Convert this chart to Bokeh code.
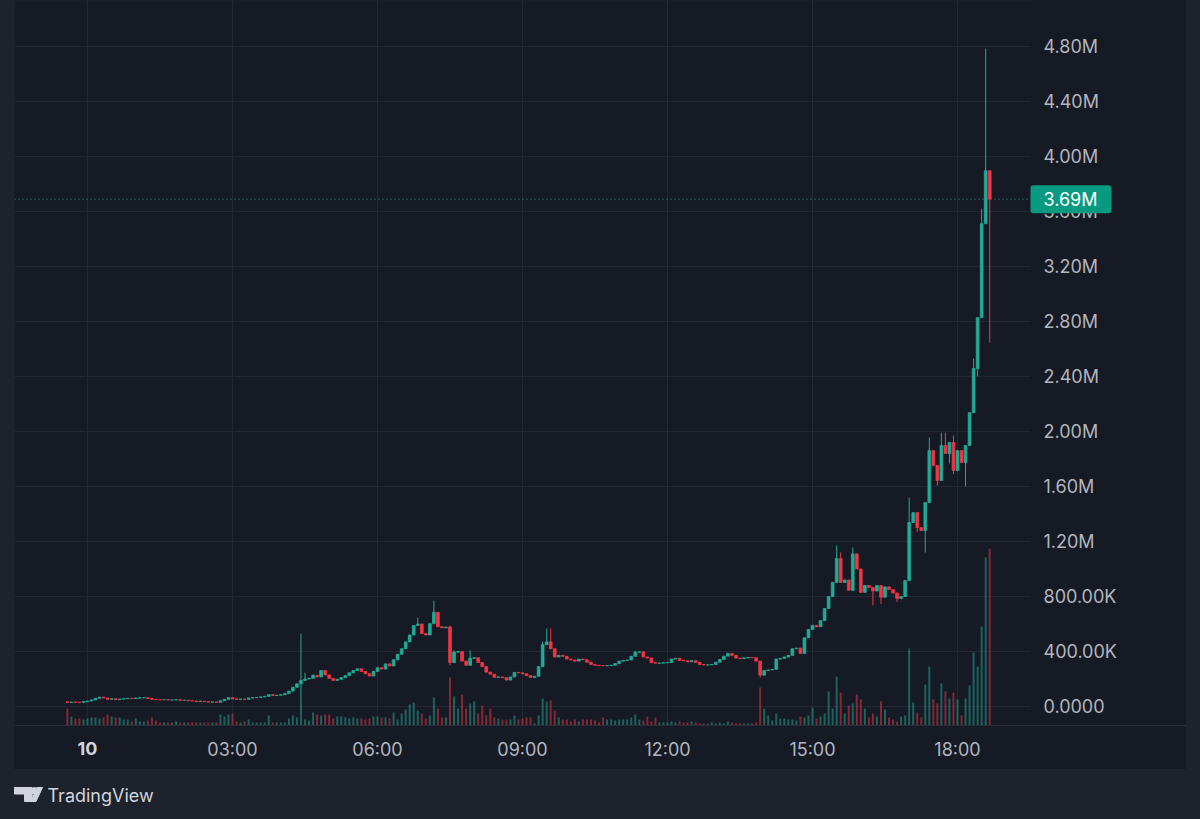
import pandas as pd
from bokeh.plotting import figure
from bokeh.models import Range1d, FixedTicker, Span, Label, Spacer, ColumnDataSource, BoxAnnotation
from bokeh.layouts import row, column
from bokeh.embed import file_html
from bokeh.resources import INLINE

# ---------------- data (5-minute candles, prices in thousands) ----------------
day_start = pd.Timestamp("2025-01-10 00:00")
first_bar = pd.Timestamp("2025-01-09 23:35")
first_open = 34

closes = [
    30, 33, 31, 30, 36, 40, 48, 60, 68, 62,
    52, 56, 50, 54, 57, 60, 58, 62, 63, 64,
    58, 52, 50, 49, 50, 47, 48, 49, 45, 46,
    42, 40, 37, 38, 35, 32, 33, 31, 42, 52,
    64, 55, 52, 54, 52, 62, 64, 66, 70, 74,
    86, 80, 82, 86, 95, 112, 140, 165, 190, 200,
    205, 225, 215, 262, 230, 205, 190, 198, 210, 225,
    245, 262, 274, 255, 238, 222, 255, 282, 272, 310,
    295, 340, 380, 420, 470, 520, 589, 600, 530, 520,
    603, 685, 580, 572, 578, 320, 395, 400, 330, 300,
    350, 355, 320, 290, 250, 235, 212, 215, 210, 192,
    215, 248, 245, 238, 225, 212, 220, 290, 450, 470,
    420, 360, 372, 365, 345, 338, 330, 345, 340, 322,
    305, 300, 298, 296, 298, 300, 312, 330, 335, 338,
    365, 395, 398, 360, 352, 318, 315, 316, 318, 320,
    345, 350, 335, 332, 325, 333, 320, 305, 302, 303,
    306, 322, 342, 366, 385, 372, 352, 348, 354, 357,
    355, 330, 228, 262, 266, 270, 345, 350, 360, 372,
    420, 425, 385, 500, 560, 590, 580, 625, 713, 800,
    902, 1076, 902, 920, 845, 1110, 1000, 830, 880, 865,
    840, 880, 795, 870, 850, 825, 785, 800, 916, 1338,
    1410, 1301, 1280, 1483, 1861, 1752, 1643, 1898, 1840, 1920,
    1716, 1861, 1774, 1898, 2137, 2457, 2828, 3511, 3897, 3690,
]

# wicks that reach beyond the candle body (index: value, thousands)
wick_highs = {58: 530, 59: 245, 61: 235, 87: 647, 91: 770, 95: 590, 96: 410,
              100: 407, 118: 470, 119: 567, 120: 567, 141: 405, 164: 392,
              191: 1171, 192: 1120, 195: 1156, 209: 1520, 214: 1956, 217: 1992,
              218: 1992, 220: 1970, 225: 2530, 227: 3620, 228: 4784}
wick_lows = {58: 20, 95: 300, 96: 318, 172: 210, 200: 735, 202: 745, 206: 760,
             211: 1270, 213: 1120, 216: 1607, 219: 1767, 220: 1690, 223: 1600,
             226: 2400, 229: 2646}

volumes = [
    17, 9, 7, 7, 6, 7, 8, 8, 7, 8,
    11, 9, 8, 8, 6, 6, 4, 7, 4, 4,
    5, 8, 5, 3, 3, 3, 3, 4, 3, 3,
    3, 3, 3, 3, 3, 3, 3, 3, 11, 9,
    11, 12, 4, 3, 4, 6, 3, 3, 3, 3,
    10, 3, 3, 3, 3, 7, 10, 8, 22, 6,
    5, 13, 11, 10, 11, 11, 7, 9, 9, 8,
    7, 8, 7, 7, 6, 7, 9, 9, 8, 8,
    7, 13, 6, 12, 16, 21, 23, 15, 12, 7,
    10, 28, 17, 8, 8, 48, 29, 17, 31, 17,
    22, 24, 12, 20, 10, 17, 8, 7, 6, 6,
    6, 10, 6, 7, 8, 8, 2, 10, 27, 24,
    25, 15, 8, 6, 6, 4, 6, 4, 6, 6,
    6, 5, 3, 8, 6, 6, 5, 6, 6, 6,
    8, 11, 6, 5, 9, 4, 8, 3, 3, 3,
    4, 3, 4, 3, 3, 4, 3, 2, 2, 2,
    3, 2, 3, 2, 4, 3, 2, 2, 2, 2,
    2, 3, 38, 17, 10, 5, 12, 7, 7, 6,
    6, 5, 9, 8, 10, 18, 7, 9, 12, 34,
    17, 49, 33, 12, 20, 22, 31, 26, 17, 8,
    12, 9, 24, 16, 8, 6, 4, 9, 10, 77,
    23, 13, 8, 41, 59, 26, 22, 42, 34, 27,
    33, 26, 10, 27, 40, 73, 59, 99, 168, 177,
]

price_ticks = [0, 400, 800, 1200, 1600, 2000, 2400, 2800, 3200, 3600, 4000, 4400, 4800]
time_ticks = [0, 3, 6, 9, 12, 15, 18]
time_labels = ["10", "03:00", "06:00", "09:00", "12:00", "15:00", "18:00"]

# ---------------- derived ----------------
times = pd.date_range(first_bar, periods=len(closes), freq="5min")
hours = [(t - day_start).total_seconds() / 3600 for t in times]
opens = [first_open] + closes[:-1]
highs = [wick_highs.get(i, max(o, c)) for i, (o, c) in enumerate(zip(opens, closes))]
lows = [wick_lows.get(i, min(o, c)) for i, (o, c) in enumerate(zip(opens, closes))]

GREEN = "#22ab94"
RED = "#f23645"
BG = "#161a25"
OUTER = "#1e222d"
GRID = "#232734"
TEXT = "#b2b5be"
FONT = "Inter"
FS = "18px"

colors = [GREEN if c >= o else RED for o, c in zip(opens, closes)]
src = ColumnDataSource(dict(
    x=hours, open=opens, close=closes, high=highs, low=lows,
    top=[max(o, c) for o, c in zip(opens, closes)],
    bottom=[min(o, c) for o, c in zip(opens, closes)],
    vol=volumes, color=colors,
))

bar_w = 5 / 60  # one bar interval in hours

def fmt_price(v):
    if v == 0:
        return "0.0000"
    if v >= 1000:
        return f"{v / 1000:.2f}M"
    return f"{v:.2f}K"

# panel geometry (pixels)
PANEL_W, PANEL_H = 1172, 769
PX_PER_H = 145 / 3.0
y_per_px = 400 / 55.0
x0 = -(87 - 14) / PX_PER_H
x1 = x0 + PANEL_W / PX_PER_H
x_price_scale = x0 + (1030 - 14) / PX_PER_H
y0 = -(769 - 706) * y_per_px
y1 = y0 + PANEL_H * y_per_px
y_time_scale = -(725 - 706) * y_per_px

p = figure(width=PANEL_W, height=PANEL_H, x_range=Range1d(x0, x1), y_range=Range1d(y0, y1),
           y_axis_location="right", output_backend="svg", toolbar_location=None,
           background_fill_color=BG, border_fill_color=BG, outline_line_color=None,
           min_border=0, min_border_left=0, min_border_right=0, min_border_top=0, min_border_bottom=0)

p.extra_y_ranges = {"vol": Range1d(-(769 - 725), 725)}

# grid
p.xgrid.ticker = FixedTicker(ticks=time_ticks)
p.ygrid.ticker = FixedTicker(ticks=price_ticks)
p.grid.grid_line_color = GRID
p.grid.grid_line_width = 1

# last price line (under the scale covers)
last = closes[-1]
p.add_layout(Span(location=last, dimension="width", line_color=GREEN, line_dash="1 3",
                  line_width=1, level="underlay"))

# scale areas cover the grid
p.add_layout(BoxAnnotation(left=x_price_scale, fill_color=BG, fill_alpha=1, line_color=None,
                           level="underlay"))
p.add_layout(BoxAnnotation(top=y_time_scale, fill_color=BG, fill_alpha=1, line_color=None,
                           level="underlay"))

# axes placed at the scale edges
p.yaxis.ticker = FixedTicker(ticks=price_ticks)
p.yaxis.major_label_overrides = {t: fmt_price(t) for t in price_ticks}
p.yaxis.fixed_location = x_price_scale
p.xaxis.ticker = FixedTicker(ticks=time_ticks)
p.xaxis.major_label_overrides = {t: (" " if lab == "10" else lab) for t, lab in zip(time_ticks, time_labels)}
p.xaxis.fixed_location = y_time_scale
for ax in (p.xaxis[0], p.yaxis[0]):
    ax.major_tick_line_color = None
    ax.minor_tick_line_color = None
    ax.major_tick_out = 0
    ax.major_tick_in = 0
    ax.minor_tick_out = 0
    ax.minor_tick_in = 0
    ax.major_label_text_color = TEXT
    ax.major_label_text_font = FONT
    ax.major_label_text_font_size = FS
p.yaxis.axis_line_color = None
p.yaxis.major_label_standoff = 13
p.xaxis.axis_line_color = "#2a2e39"
p.xaxis.major_label_standoff = 13

# volume
p.vbar(x="x", top="vol", bottom=0, width=bar_w * 0.5, source=src, y_range_name="vol",
       fill_color="color", line_color=None, fill_alpha=0.5)
# candles
p.segment(x0="x", y0="low", x1="x", y1="high", source=src, line_color="color", line_width=1)
p.vbar(x="x", top="top", bottom="bottom", width=bar_w * 0.68, source=src,
       fill_color="color", line_color="color", line_width=0.8)

# last price label on the scale
p.add_layout(Label(x=x_price_scale, y=last, text=fmt_price(last), x_units="data", y_units="data",
                   text_align="left", text_baseline="middle", text_color="#ffffff",
                   text_font=FONT, text_font_size=FS,
                   background_fill_color="#089981",
                   padding=dict(left=13, right=14, top=4, bottom=3), border_radius=3))

# bold day label on the time scale
p.add_layout(Label(x=time_ticks[0], y=y_time_scale - 23 * y_per_px, text=time_labels[0],
                   text_align="center", text_baseline="middle", text_color="#d1d4dc",
                   text_font=FONT, text_font_size=FS, text_font_style="bold"))

# bottom strip with logo
b = figure(width=1200, height=50, x_range=Range1d(0, 1200), y_range=Range1d(50, 0),
           x_axis_type=None, y_axis_type=None, output_backend="svg", toolbar_location=None,
           background_fill_color=OUTER, border_fill_color=OUTER, outline_line_color=None,
           min_border=0)
b.grid.visible = False
b.patch([14, 31.7, 31.7, 24, 24, 14], [18, 18, 32, 32, 24.5, 24.5], color="#d1d4dc")
b.scatter([34.2], [21.3], size=6.5, color="#d1d4dc")
b.patch([36.5, 42, 35.5, 30.5], [18, 18, 32, 32], color="#d1d4dc")
b.add_layout(Label(x=47, y=25.5, text="TradingView", text_align="left", text_baseline="middle",
                   text_color="#d1d4dc", text_font=FONT, text_font_size="18px"))

layout = column(
    row(Spacer(width=14, height=769, styles={"background-color": OUTER}), p,
        Spacer(width=14, height=769, styles={"background-color": OUTER}),
        styles={"background-color": OUTER}),
    b,
    styles={"background-color": OUTER},
)

open("out.html", "w").write(file_html(layout, INLINE))
